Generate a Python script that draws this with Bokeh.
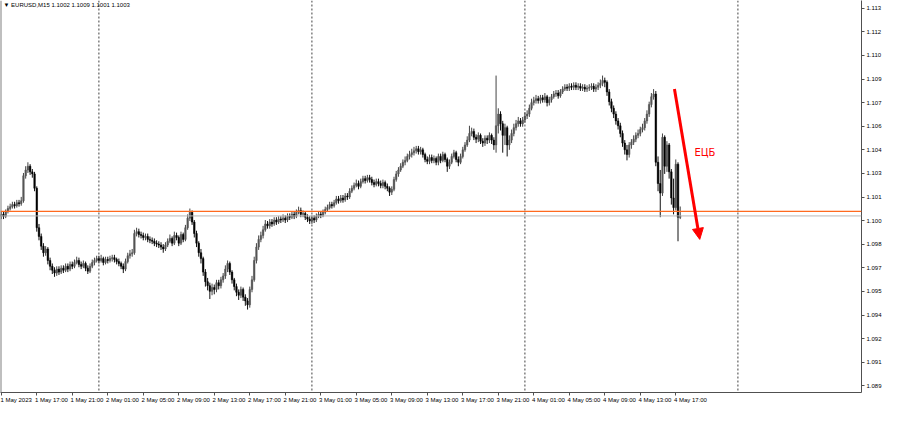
from bokeh.plotting import figure
from bokeh.models import (FixedTicker, Span, Label, Arrow, NormalHead,
                          ColumnDataSource, Range1d, LinearAxis)
from bokeh.embed import file_html
from bokeh.resources import INLINE

# ---------------- data (EURUSD M15, bars from 1 May 2023 13:00) ----------------
symbol = "EURUSD,M15"
header_ohlc = ["1.1002", "1.1009", "1.1001", "1.1003"]

opens = [
    1.10028, 1.10040, 1.10028, 1.10059, 1.10077, 1.10089, 1.10102, 1.10095, 1.10114, 1.10108,
    1.10126, 1.10285, 1.10322, 1.10346, 1.10310, 1.10297, 1.10206, 1.09955, 1.09900, 1.09838,
    1.09796, 1.09820, 1.09747, 1.09710, 1.09685, 1.09667, 1.09692, 1.09673, 1.09698, 1.09685,
    1.09710, 1.09692, 1.09722, 1.09710, 1.09734, 1.09747, 1.09722, 1.09710, 1.09728, 1.09698,
    1.09679, 1.09710, 1.09734, 1.09747, 1.09759, 1.09747, 1.09759, 1.09734, 1.09753, 1.09747,
    1.09759, 1.09765, 1.09753, 1.09740, 1.09728, 1.09710, 1.09692, 1.09740, 1.09777, 1.09789,
    1.09796, 1.09918, 1.09930, 1.09912, 1.09906, 1.09893, 1.09900, 1.09881, 1.09875, 1.09869,
    1.09857, 1.09851, 1.09845, 1.09832, 1.09820, 1.09845, 1.09869, 1.09887, 1.09857, 1.09906,
    1.09893, 1.09857, 1.09912, 1.09881, 1.09955, 1.10016, 1.10053, 1.09991, 1.09918, 1.09857,
    1.09796, 1.09759, 1.09673, 1.09612, 1.09587, 1.09551, 1.09575, 1.09563, 1.09606, 1.09587,
    1.09624, 1.09649, 1.09692, 1.09728, 1.09673, 1.09624, 1.09581, 1.09545, 1.09526, 1.09563,
    1.09514, 1.09490, 1.09465, 1.09563, 1.09624, 1.09747, 1.09832, 1.09881, 1.09906, 1.09942,
    1.09979, 1.09967, 1.09991, 1.09979, 1.10004, 1.09991, 1.10010, 1.10004, 1.10016, 1.10004,
    1.10028, 1.10022, 1.10040, 1.10028, 1.10053, 1.10065, 1.10040, 1.10046, 1.10022, 1.10010,
    1.09998, 1.10016, 1.10004, 1.10028, 1.10040, 1.10034, 1.10053, 1.10071, 1.10083, 1.10102,
    1.10095, 1.10114, 1.10138, 1.10126, 1.10144, 1.10132, 1.10157, 1.10151, 1.10187, 1.10206,
    1.10224, 1.10236, 1.10218, 1.10248, 1.10267, 1.10255, 1.10273, 1.10261, 1.10242, 1.10230,
    1.10248, 1.10236, 1.10224, 1.10242, 1.10218, 1.10206, 1.10181, 1.10199, 1.10261, 1.10297,
    1.10322, 1.10346, 1.10371, 1.10383, 1.10408, 1.10420, 1.10432, 1.10444, 1.10457, 1.10438,
    1.10450, 1.10420, 1.10389, 1.10377, 1.10401, 1.10383, 1.10395, 1.10371, 1.10408, 1.10383,
    1.10420, 1.10389, 1.10346, 1.10371, 1.10408, 1.10432, 1.10389, 1.10371, 1.10408, 1.10450,
    1.10481, 1.10512, 1.10554, 1.10567, 1.10530, 1.10518, 1.10542, 1.10505, 1.10493, 1.10524,
    1.10512, 1.10542, 1.10512, 1.10481, 1.10603, 1.10677, 1.10616, 1.10542, 1.10591, 1.10481,
    1.10512, 1.10554, 1.10591, 1.10616, 1.10634, 1.10616, 1.10640, 1.10665, 1.10677, 1.10714,
    1.10750, 1.10763, 1.10775, 1.10763, 1.10781, 1.10769, 1.10787, 1.10750, 1.10769, 1.10787,
    1.10805, 1.10811, 1.10793, 1.10818, 1.10836, 1.10848, 1.10842, 1.10854, 1.10848, 1.10860,
    1.10848, 1.10854, 1.10842, 1.10848, 1.10836, 1.10842, 1.10848, 1.10854, 1.10836, 1.10848,
    1.10860, 1.10873, 1.10891, 1.10879, 1.10818, 1.10756, 1.10714, 1.10677, 1.10634, 1.10603,
    1.10554, 1.10493, 1.10450, 1.10420, 1.10481, 1.10499, 1.10518, 1.10542, 1.10554, 1.10579,
    1.10591, 1.10634, 1.10677, 1.10738, 1.10787, 1.10805, 1.10371, 1.10236, 1.10175, 1.10530,
    1.10346, 1.10481, 1.10310, 1.10144, 1.10083, 1.10359, 1.10020,
]

highs = [
    1.10059, 1.10059, 1.10071, 1.10095, 1.10108, 1.10120, 1.10120, 1.10132, 1.10132, 1.10151,
    1.10303, 1.10346, 1.10371, 1.10359, 1.10328, 1.10310, 1.10218, 1.09979, 1.09918, 1.09857,
    1.09838, 1.09832, 1.09765, 1.09728, 1.09704, 1.09710, 1.09710, 1.09716, 1.09716, 1.09728,
    1.09728, 1.09740, 1.09740, 1.09753, 1.09771, 1.09765, 1.09740, 1.09747, 1.09740, 1.09716,
    1.09728, 1.09753, 1.09765, 1.09777, 1.09777, 1.09783, 1.09771, 1.09771, 1.09771, 1.09777,
    1.09783, 1.09783, 1.09765, 1.09759, 1.09740, 1.09728, 1.09759, 1.09796, 1.09814, 1.09820,
    1.09942, 1.09955, 1.09949, 1.09930, 1.09924, 1.09918, 1.09918, 1.09900, 1.09893, 1.09887,
    1.09875, 1.09869, 1.09863, 1.09851, 1.09863, 1.09887, 1.09912, 1.09900, 1.09930, 1.09924,
    1.09906, 1.09930, 1.09924, 1.09973, 1.10040, 1.10077, 1.10065, 1.10004, 1.09936, 1.09869,
    1.09820, 1.09771, 1.09692, 1.09636, 1.09606, 1.09600, 1.09594, 1.09624, 1.09624, 1.09643,
    1.09667, 1.09716, 1.09747, 1.09740, 1.09685, 1.09636, 1.09600, 1.09563, 1.09581, 1.09575,
    1.09532, 1.09508, 1.09581, 1.09649, 1.09771, 1.09857, 1.09906, 1.09930, 1.09967, 1.10004,
    1.09998, 1.10010, 1.10010, 1.10022, 1.10022, 1.10028, 1.10028, 1.10040, 1.10034, 1.10046,
    1.10046, 1.10059, 1.10059, 1.10071, 1.10089, 1.10083, 1.10065, 1.10059, 1.10040, 1.10028,
    1.10034, 1.10034, 1.10046, 1.10059, 1.10059, 1.10071, 1.10089, 1.10102, 1.10120, 1.10120,
    1.10132, 1.10157, 1.10157, 1.10163, 1.10163, 1.10175, 1.10175, 1.10206, 1.10224, 1.10242,
    1.10261, 1.10255, 1.10267, 1.10285, 1.10285, 1.10291, 1.10291, 1.10279, 1.10261, 1.10267,
    1.10267, 1.10255, 1.10261, 1.10255, 1.10236, 1.10218, 1.10218, 1.10279, 1.10316, 1.10340,
    1.10365, 1.10389, 1.10408, 1.10426, 1.10444, 1.10457, 1.10469, 1.10475, 1.10475, 1.10469,
    1.10463, 1.10432, 1.10408, 1.10420, 1.10420, 1.10414, 1.10408, 1.10426, 1.10426, 1.10438,
    1.10432, 1.10401, 1.10389, 1.10426, 1.10450, 1.10444, 1.10408, 1.10426, 1.10469, 1.10499,
    1.10536, 1.10603, 1.10591, 1.10585, 1.10548, 1.10561, 1.10554, 1.10524, 1.10542, 1.10542,
    1.10561, 1.10554, 1.10530, 1.10922, 1.10714, 1.10695, 1.10634, 1.10616, 1.10603, 1.10542,
    1.10579, 1.10616, 1.10640, 1.10659, 1.10652, 1.10659, 1.10689, 1.10701, 1.10738, 1.10775,
    1.10787, 1.10799, 1.10793, 1.10799, 1.10799, 1.10811, 1.10799, 1.10787, 1.10805, 1.10824,
    1.10830, 1.10830, 1.10836, 1.10854, 1.10867, 1.10867, 1.10873, 1.10873, 1.10879, 1.10879,
    1.10873, 1.10873, 1.10867, 1.10867, 1.10860, 1.10867, 1.10873, 1.10873, 1.10867, 1.10879,
    1.10897, 1.10922, 1.10909, 1.10891, 1.10836, 1.10775, 1.10732, 1.10695, 1.10652, 1.10622,
    1.10573, 1.10512, 1.10481, 1.10499, 1.10518, 1.10542, 1.10561, 1.10579, 1.10597, 1.10616,
    1.10652, 1.10701, 1.10756, 1.10811, 1.10836, 1.10824, 1.10408, 1.10322, 1.10554, 1.10542,
    1.10505, 1.10493, 1.10328, 1.10267, 1.10389, 1.10371, 1.10090,
]

lows = [
    1.10010, 1.10010, 1.10016, 1.10046, 1.10065, 1.10077, 1.10077, 1.10083, 1.10089, 1.10095,
    1.10114, 1.10267, 1.10303, 1.10291, 1.10273, 1.10187, 1.09930, 1.09875, 1.09814, 1.09771,
    1.09777, 1.09722, 1.09685, 1.09661, 1.09643, 1.09649, 1.09655, 1.09661, 1.09667, 1.09673,
    1.09673, 1.09679, 1.09692, 1.09698, 1.09722, 1.09704, 1.09692, 1.09698, 1.09679, 1.09661,
    1.09667, 1.09698, 1.09716, 1.09734, 1.09728, 1.09734, 1.09716, 1.09722, 1.09728, 1.09734,
    1.09740, 1.09734, 1.09722, 1.09710, 1.09692, 1.09667, 1.09679, 1.09728, 1.09759, 1.09771,
    1.09783, 1.09900, 1.09893, 1.09887, 1.09875, 1.09875, 1.09863, 1.09857, 1.09851, 1.09838,
    1.09832, 1.09826, 1.09814, 1.09796, 1.09807, 1.09832, 1.09857, 1.09838, 1.09845, 1.09875,
    1.09838, 1.09845, 1.09863, 1.09869, 1.09942, 1.09998, 1.09973, 1.09893, 1.09832, 1.09771,
    1.09728, 1.09649, 1.09581, 1.09557, 1.09502, 1.09526, 1.09532, 1.09545, 1.09563, 1.09569,
    1.09606, 1.09630, 1.09673, 1.09655, 1.09600, 1.09557, 1.09520, 1.09496, 1.09508, 1.09490,
    1.09459, 1.09435, 1.09447, 1.09545, 1.09612, 1.09728, 1.09814, 1.09863, 1.09887, 1.09930,
    1.09949, 1.09949, 1.09961, 1.09967, 1.09973, 1.09979, 1.09985, 1.09991, 1.09985, 1.09991,
    1.10004, 1.10010, 1.10010, 1.10016, 1.10040, 1.10022, 1.10022, 1.10004, 1.09991, 1.09979,
    1.09979, 1.09985, 1.09991, 1.10016, 1.10016, 1.10022, 1.10040, 1.10059, 1.10071, 1.10077,
    1.10083, 1.10102, 1.10108, 1.10114, 1.10114, 1.10120, 1.10132, 1.10138, 1.10175, 1.10193,
    1.10212, 1.10199, 1.10206, 1.10236, 1.10236, 1.10242, 1.10242, 1.10224, 1.10212, 1.10218,
    1.10218, 1.10206, 1.10206, 1.10199, 1.10187, 1.10157, 1.10163, 1.10187, 1.10248, 1.10279,
    1.10310, 1.10334, 1.10352, 1.10371, 1.10389, 1.10401, 1.10414, 1.10426, 1.10420, 1.10420,
    1.10401, 1.10371, 1.10359, 1.10359, 1.10365, 1.10365, 1.10352, 1.10352, 1.10365, 1.10371,
    1.10371, 1.10310, 1.10328, 1.10359, 1.10395, 1.10371, 1.10346, 1.10359, 1.10395, 1.10438,
    1.10469, 1.10499, 1.10536, 1.10512, 1.10493, 1.10499, 1.10487, 1.10469, 1.10475, 1.10487,
    1.10493, 1.10487, 1.10450, 1.10432, 1.10554, 1.10573, 1.10432, 1.10481, 1.10408, 1.10450,
    1.10493, 1.10536, 1.10573, 1.10597, 1.10597, 1.10597, 1.10622, 1.10646, 1.10659, 1.10701,
    1.10732, 1.10744, 1.10744, 1.10744, 1.10750, 1.10750, 1.10726, 1.10732, 1.10750, 1.10775,
    1.10787, 1.10775, 1.10781, 1.10805, 1.10824, 1.10824, 1.10824, 1.10830, 1.10830, 1.10830,
    1.10830, 1.10824, 1.10824, 1.10818, 1.10818, 1.10824, 1.10830, 1.10818, 1.10818, 1.10830,
    1.10842, 1.10854, 1.10848, 1.10793, 1.10732, 1.10689, 1.10652, 1.10610, 1.10579, 1.10530,
    1.10469, 1.10420, 1.10383, 1.10401, 1.10457, 1.10481, 1.10499, 1.10524, 1.10536, 1.10561,
    1.10573, 1.10616, 1.10659, 1.10720, 1.10769, 1.10346, 1.10187, 1.10022, 1.10157, 1.10297,
    1.10310, 1.10267, 1.10102, 1.10040, 1.10065, 1.09869, 1.10010,
]

closes = [
    1.10040, 1.10028, 1.10059, 1.10077, 1.10089, 1.10102, 1.10095, 1.10114, 1.10108, 1.10126,
    1.10285, 1.10322, 1.10346, 1.10310, 1.10297, 1.10206, 1.09955, 1.09900, 1.09838, 1.09796,
    1.09820, 1.09747, 1.09710, 1.09685, 1.09667, 1.09692, 1.09673, 1.09698, 1.09685, 1.09710,
    1.09692, 1.09722, 1.09710, 1.09734, 1.09747, 1.09722, 1.09710, 1.09728, 1.09698, 1.09679,
    1.09710, 1.09734, 1.09747, 1.09759, 1.09747, 1.09759, 1.09734, 1.09753, 1.09747, 1.09759,
    1.09765, 1.09753, 1.09740, 1.09728, 1.09710, 1.09692, 1.09740, 1.09777, 1.09789, 1.09796,
    1.09918, 1.09930, 1.09912, 1.09906, 1.09893, 1.09900, 1.09881, 1.09875, 1.09869, 1.09857,
    1.09851, 1.09845, 1.09832, 1.09820, 1.09845, 1.09869, 1.09887, 1.09857, 1.09906, 1.09893,
    1.09857, 1.09912, 1.09881, 1.09955, 1.10016, 1.10053, 1.09991, 1.09918, 1.09857, 1.09796,
    1.09759, 1.09673, 1.09612, 1.09587, 1.09551, 1.09575, 1.09563, 1.09606, 1.09587, 1.09624,
    1.09649, 1.09692, 1.09728, 1.09673, 1.09624, 1.09581, 1.09545, 1.09526, 1.09563, 1.09514,
    1.09490, 1.09465, 1.09563, 1.09624, 1.09747, 1.09832, 1.09881, 1.09906, 1.09942, 1.09979,
    1.09967, 1.09991, 1.09979, 1.10004, 1.09991, 1.10010, 1.10004, 1.10016, 1.10004, 1.10028,
    1.10022, 1.10040, 1.10028, 1.10053, 1.10065, 1.10040, 1.10046, 1.10022, 1.10010, 1.09998,
    1.10016, 1.10004, 1.10028, 1.10040, 1.10034, 1.10053, 1.10071, 1.10083, 1.10102, 1.10095,
    1.10114, 1.10138, 1.10126, 1.10144, 1.10132, 1.10157, 1.10151, 1.10187, 1.10206, 1.10224,
    1.10236, 1.10218, 1.10248, 1.10267, 1.10255, 1.10273, 1.10261, 1.10242, 1.10230, 1.10248,
    1.10236, 1.10224, 1.10242, 1.10218, 1.10206, 1.10181, 1.10199, 1.10261, 1.10297, 1.10322,
    1.10346, 1.10371, 1.10383, 1.10408, 1.10420, 1.10432, 1.10444, 1.10457, 1.10438, 1.10450,
    1.10420, 1.10389, 1.10377, 1.10401, 1.10383, 1.10395, 1.10371, 1.10408, 1.10383, 1.10420,
    1.10389, 1.10346, 1.10371, 1.10408, 1.10432, 1.10389, 1.10371, 1.10408, 1.10450, 1.10481,
    1.10512, 1.10554, 1.10567, 1.10530, 1.10518, 1.10542, 1.10505, 1.10493, 1.10524, 1.10512,
    1.10542, 1.10512, 1.10481, 1.10603, 1.10677, 1.10616, 1.10542, 1.10591, 1.10481, 1.10512,
    1.10554, 1.10591, 1.10616, 1.10634, 1.10616, 1.10640, 1.10665, 1.10677, 1.10714, 1.10750,
    1.10763, 1.10775, 1.10763, 1.10781, 1.10769, 1.10787, 1.10750, 1.10769, 1.10787, 1.10805,
    1.10811, 1.10793, 1.10818, 1.10836, 1.10848, 1.10842, 1.10854, 1.10848, 1.10860, 1.10848,
    1.10854, 1.10842, 1.10848, 1.10836, 1.10842, 1.10848, 1.10854, 1.10836, 1.10848, 1.10860,
    1.10873, 1.10891, 1.10879, 1.10818, 1.10756, 1.10714, 1.10677, 1.10634, 1.10603, 1.10554,
    1.10493, 1.10450, 1.10420, 1.10481, 1.10499, 1.10518, 1.10542, 1.10554, 1.10579, 1.10591,
    1.10634, 1.10677, 1.10738, 1.10787, 1.10805, 1.10371, 1.10236, 1.10175, 1.10530, 1.10346,
    1.10481, 1.10310, 1.10144, 1.10083, 1.10359, 1.10022, 1.10030,
]

# time axis (bar index of each label, 16 bars = 4 hours)
time_tick_bars = [0, 16, 32, 48, 64, 80, 96, 112, 128, 144, 160, 176, 192, 208, 224,
                  240, 256, 272, 288, 304]
time_tick_labels = ["1 May 2023", "1 May 17:00", "1 May 21:00", "2 May 01:00", "2 May 05:00",
                    "2 May 09:00", "2 May 13:00", "2 May 17:00", "2 May 21:00", "3 May 01:00",
                    "3 May 05:00", "3 May 09:00", "3 May 13:00", "3 May 17:00", "3 May 21:00",
                    "4 May 01:00", "4 May 05:00", "4 May 09:00", "4 May 13:00", "4 May 17:00"]
day_separator_bars = [44, 140, 236, 332]   # 2, 3, 4, 5 May 00:00

price_tick_values = [1.1135, 1.1120, 1.1105, 1.1090, 1.1075, 1.1060, 1.1045, 1.1030, 1.1015,
                     1.1000, 1.0985, 1.0970, 1.0955, 1.0940, 1.0925, 1.0910, 1.0895]
price_tick_labels = ["1.113", "1.112", "1.110", "1.109", "1.107", "1.106", "1.104", "1.103",
                     "1.101", "1.100", "1.098", "1.097", "1.095", "1.094", "1.092", "1.091",
                     "1.089"]

level_price = 1.10059      # orange horizontal line
bid_price = 1.10030        # grey bid line

arrow_bars = [303.4, 314.8]
arrow_prices = [1.10836, 1.09881]
note_bar = 312.4
note_price = 1.10432
note_text = "ЕЦБ"

view_bars = [-0.35, 387.7]
view_prices = [1.08908, 1.11399]

# ---------------- figure ----------------
FONT = "Liberation Sans"
LABEL_SHIFT = 6.6   # time labels start at their tick (MT4 style), in bars

bars = list(range(len(closes)))
up = [c >= o for o, c in zip(opens, closes)]
src = ColumnDataSource(dict(
    x=bars, o=opens, h=highs, l=lows, c=closes,
    top=[max(o, c) for o, c in zip(opens, closes)],
    bottom=[min(o, c) for o, c in zip(opens, closes)],
    body=["#555555" if u else "#000000" for u in up],
    wick=["#444444" if u else "#111111" for u in up],
))

p = figure(width=884, height=405,
           x_range=Range1d(*view_bars), y_range=Range1d(*view_prices),
           y_axis_location="right", output_backend="svg", toolbar_location=None,
           min_border_left=0, min_border_top=0, min_border_right=0, min_border_bottom=0)
p.grid.visible = False
p.outline_line_color = None
p.background_fill_color = "white"
p.border_fill_color = "white"

# time axis: tick marks only
xa = p.xaxis[0]
xa.ticker = FixedTicker(ticks=time_tick_bars)
xa.major_label_overrides = {b: "" for b in time_tick_bars}
xa.major_label_text_font_size = "1px"
xa.major_label_standoff = 0
xa.major_tick_out = 3
xa.major_tick_in = 0
xa.minor_tick_line_color = None
xa.axis_line_color = "#505050"
xa.major_tick_line_color = "#505050"

# time axis: labels, left-aligned at their tick
label_pos = [b + LABEL_SHIFT for b in time_tick_bars]
xa2 = LinearAxis(ticker=FixedTicker(ticks=label_pos),
                 major_label_overrides=dict(zip(label_pos, time_tick_labels)),
                 axis_line_color=None, major_tick_line_color=None,
                 minor_tick_line_color=None, major_tick_out=0, major_tick_in=0,
                 major_label_standoff=1, major_label_text_font=FONT,
                 major_label_text_font_size="6px", major_label_text_color="#000000")
p.add_layout(xa2, "below")

ya = p.yaxis[0]
ya.ticker = FixedTicker(ticks=price_tick_values)
ya.major_label_overrides = dict(zip(price_tick_values, price_tick_labels))
ya.major_label_text_font = FONT
ya.major_label_text_font_size = "6px"
ya.major_label_text_color = "#000000"
ya.major_label_standoff = 2
ya.major_tick_out = 3
ya.major_tick_in = 0
ya.minor_tick_line_color = None
ya.axis_line_color = "#505050"
ya.major_tick_line_color = "#505050"

# left frame edge
p.add_layout(Span(location=view_bars[0], dimension="height", line_color="#808080", line_width=2))

# day separators
for b in day_separator_bars:
    p.add_layout(Span(location=b, dimension="height", line_color="#404040",
                      line_dash="2 2", line_width=1))

# candles
p.segment(x0="x", y0="h", x1="x", y1="l", line_color="wick", line_width=1, source=src)
p.vbar(x="x", width=0.7, top="top", bottom="bottom", fill_color="body",
       line_color="body", line_width=0.5, source=src)

# horizontal lines
p.add_layout(Span(location=level_price, dimension="width", line_color="#ff6a1f", line_width=1.2))
p.add_layout(Span(location=bid_price, dimension="width", line_color="#b8b8b8", line_width=1))

# header
p.add_layout(Label(x=view_bars[0], y=view_prices[1], x_offset=3, y_offset=-1,
                   text="▼ " + symbol + "  " + " ".join(header_ohlc),
                   text_baseline="top", text_align="left", text_font=FONT,
                   text_font_size="6px", text_color="#000000"))

# ECB arrow + note
p.add_layout(Arrow(x_start=arrow_bars[0], y_start=arrow_prices[0],
                   x_end=arrow_bars[1], y_end=arrow_prices[1],
                   line_color="#ff0000", line_width=3,
                   end=NormalHead(size=11, fill_color="#ff0000", line_color="#ff0000")))
p.add_layout(Label(x=note_bar, y=note_price, text=note_text, text_baseline="middle",
                   text_align="left", text_font="DejaVu Sans", text_font_size="10px",
                   text_color="#ff0000"))

open("out.html", "w").write(file_html(p, INLINE))
